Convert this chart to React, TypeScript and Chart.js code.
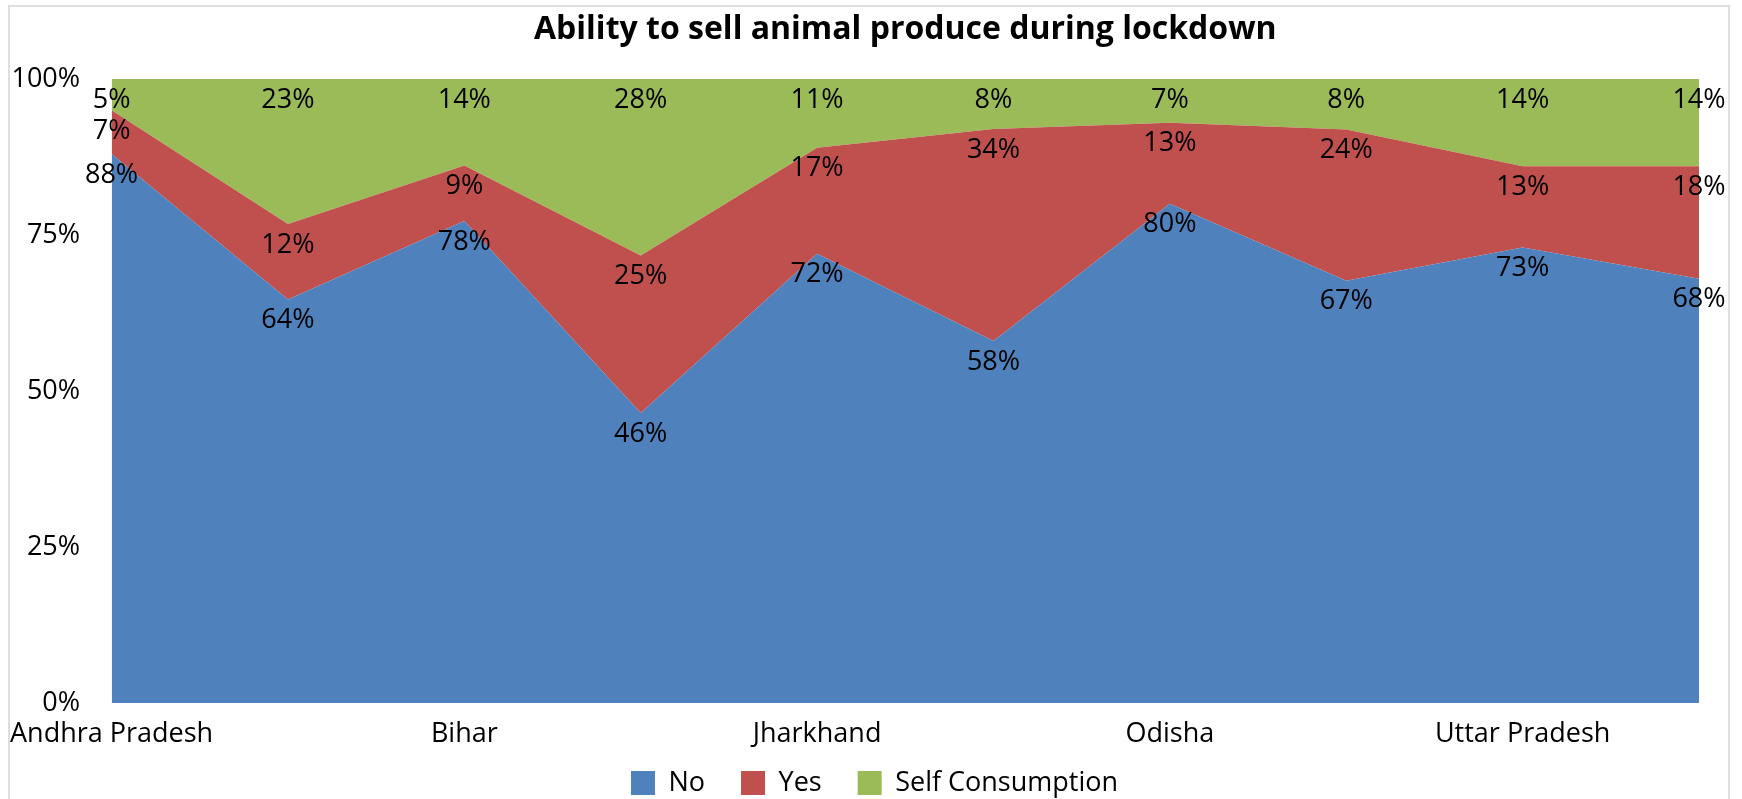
import React, { useEffect, useRef } from "react";
import { Chart, registerables } from "chart.js";

Chart.register(...registerables);

// ---- Data ----
const categories = [
  "Andhra Pradesh",
  "Assam",
  "Bihar",
  "Chhattisgarh",
  "Jharkhand",
  "Madhya Pradesh",
  "Odisha",
  "Rajasthan",
  "Uttar Pradesh",
  "West Bengal",
];
const shownLabelIndices = [0, 2, 4, 6, 8];
const noValues = [88, 64, 78, 46, 72, 58, 80, 67, 73, 68];
const yesValues = [7, 12, 9, 25, 17, 34, 13, 24, 13, 18];
const selfValues = [5, 23, 14, 28, 11, 8, 7, 8, 14, 14];
const seriesNames = ["No", "Yes", "Self Consumption"];
const seriesColors = ["#4F81BD", "#C0504D", "#9BBB59"];
const yTickStep = 25;
const titleText = "Ability to sell animal produce during lockdown";

const FONT = '"Open Sans", "DejaVu Sans", sans-serif';

// 100% stacked shares
const totals = categories.map((_, i) => noValues[i] + yesValues[i] + selfValues[i]);
const share = (arr: number[]) => arr.map((v, i) => (v / totals[i]) * 100);

const valueLabels = {
  id: "valueLabels",
  afterDatasetsDraw(chart: any) {
    const ctx = chart.ctx;
    ctx.save();
    ctx.font = `27px ${FONT}`;
    ctx.fillStyle = "#000000";
    ctx.textAlign = "center";
    ctx.textBaseline = "middle";
    chart.data.datasets.forEach((ds: any, di: number) => {
      const meta = chart.getDatasetMeta(di);
      meta.data.forEach((pt: any, i: number) => {
        ctx.fillText(`${ds.rawValues[i]}%`, pt.x, pt.y + 21);
      });
    });
    ctx.restore();
  },
};

// place the legend row like the reference (slightly right of centre, closer to the axis labels)
const legendPlacement = {
  id: "legendPlacement",
  afterLayout(chart: any) {
    const lg = chart.legend;
    if (!lg) return;
    lg.top -= 21.5;
    lg.bottom -= 21.5;
    lg.left += 20;
    lg.right += 20;
  },
};

export default function App() {
  const canvasRef = useRef<HTMLCanvasElement | null>(null);

  useEffect(() => {
    if (!canvasRef.current) return;
    const raws = [noValues, yesValues, selfValues];
    const chart = new Chart(canvasRef.current, {
      type: "line",
      data: {
        labels: categories,
        datasets: raws.map((arr, k) => ({
          label: seriesNames[k],
          data: share(arr),
          rawValues: arr,
          backgroundColor: seriesColors[k],
          borderColor: seriesColors[k],
          borderWidth: 0,
          pointRadius: 0,
          pointHoverRadius: 0,
          tension: 0,
          fill: k === 0 ? "origin" : "-1",
        })) as any,
      },
      options: {
        responsive: false,
        animation: false,
        events: [],
        layout: { padding: { left: 0, right: 29, top: 0, bottom: -25 } },
        plugins: {
          title: {
            display: true,
            text: titleText,
            fullSize: false,
            color: "#000000",
            font: { family: FONT, size: 32, weight: "bold" },
            padding: { top: 4, bottom: 29.6 },
          },
          legend: {
            display: true,
            position: "bottom",
            labels: {
              boxWidth: 24,
              boxHeight: 24,
              padding: 36,
              color: "#000000",
              font: { family: FONT, size: 27 },
            },
          },
          tooltip: { enabled: false },
        },
        scales: {
          x: {
            type: "category",
            offset: false,
            grid: { display: false, drawTicks: false },
            border: { display: false },
            ticks: {
              autoSkip: false,
              maxRotation: 0,
              minRotation: 0,
              padding: 0,
              color: "#000000",
              font: { family: FONT, size: 27, lineHeight: 62 / 27 },
              callback: (_v: any, i: number) =>
                shownLabelIndices.includes(i) ? categories[i] : "",
            },
            afterFit: (s: any) => {
              s.height = 52;
            },
          },
          y: {
            stacked: true,
            min: 0,
            max: 100,
            grid: { display: false, drawTicks: false },
            border: { display: false },
            ticks: {
              stepSize: yTickStep,
              padding: 31.5,
              color: "#000000",
              font: { family: FONT, size: 27 },
              callback: (v: any) => `${v}%`,
            },
            afterFit: (s: any) => {
              s.width = 101.5;
            },
          },
        },
      } as any,
      plugins: [valueLabels, legendPlacement],
    });
    return () => chart.destroy();
  }, []);

  return (
    <div
      style={{
        position: "fixed",
        left: 8,
        top: 5,
        width: 1722,
        height: 800,
        border: "2px solid #dedede",
        boxSizing: "border-box",
        background: "#ffffff",
      }}
    >
      <canvas ref={canvasRef} width={1718} height={796} style={{ display: "block" }} />
    </div>
  );
}
